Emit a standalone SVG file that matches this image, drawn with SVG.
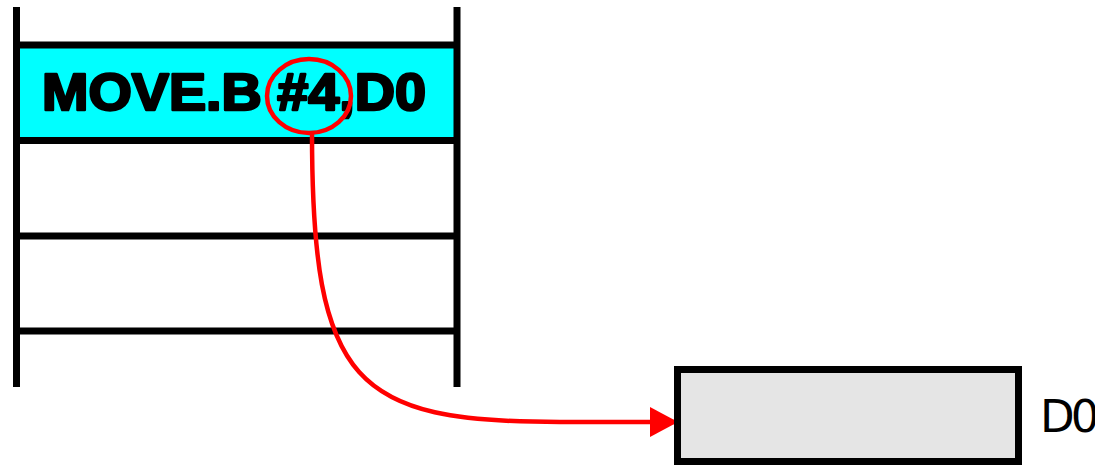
<svg xmlns="http://www.w3.org/2000/svg" width="1095" height="466" viewBox="0 0 1095 466">
<defs>
<style>
.ln{stroke:#000;stroke-width:7;fill:none}
.red{stroke:#ff0000;stroke-width:4.5;fill:none}
</style>
<marker id="arr" markerUnits="userSpaceOnUse" markerWidth="30" markerHeight="32" refX="28" refY="15" orient="auto">
<path d="M0,0 L28,15 L0,30 Z" fill="#ff0000"/>
</marker>
</defs>
<rect width="1095" height="466" fill="#fff"/>
<g id="memory">
<rect x="16.5" y="45" width="440.5" height="95.5" fill="#00ffff"/>
<line class="ln" x1="16.5" y1="7" x2="16.5" y2="387"/>
<line class="ln" x1="457" y1="7" x2="457" y2="387"/>
<line class="ln" x1="16.5" y1="45" x2="457" y2="45"/>
<line class="ln" x1="16.5" y1="140.5" x2="457" y2="140.5"/>
<line class="ln" x1="16.5" y1="236" x2="457" y2="236"/>
<line class="ln" x1="16.5" y1="331" x2="457" y2="331"/>
<text x="42" y="110" font-family="Liberation Sans, Arial, sans-serif" font-weight="bold" font-size="51" stroke="#000" stroke-width="2.5" stroke-linejoin="round" textLength="384" lengthAdjust="spacingAndGlyphs">MOVE.B #4,D0</text>
</g>
<g id="highlight">
<ellipse class="red" cx="309" cy="96" rx="42" ry="37"/>
</g>
<g id="connectors">
<path class="red" d="M312,133 C312,385 355,422 560,422 L678,422" marker-end="url(#arr)"/>
</g>
<g id="register">
<rect x="677.5" y="369.5" width="341" height="92" fill="#e5e5e5" stroke="#000" stroke-width="7"/>
<text x="1040" y="432" font-family="DejaVu Sans, sans-serif" font-size="45" letter-spacing="-4">D0</text>
</g>
</svg>
